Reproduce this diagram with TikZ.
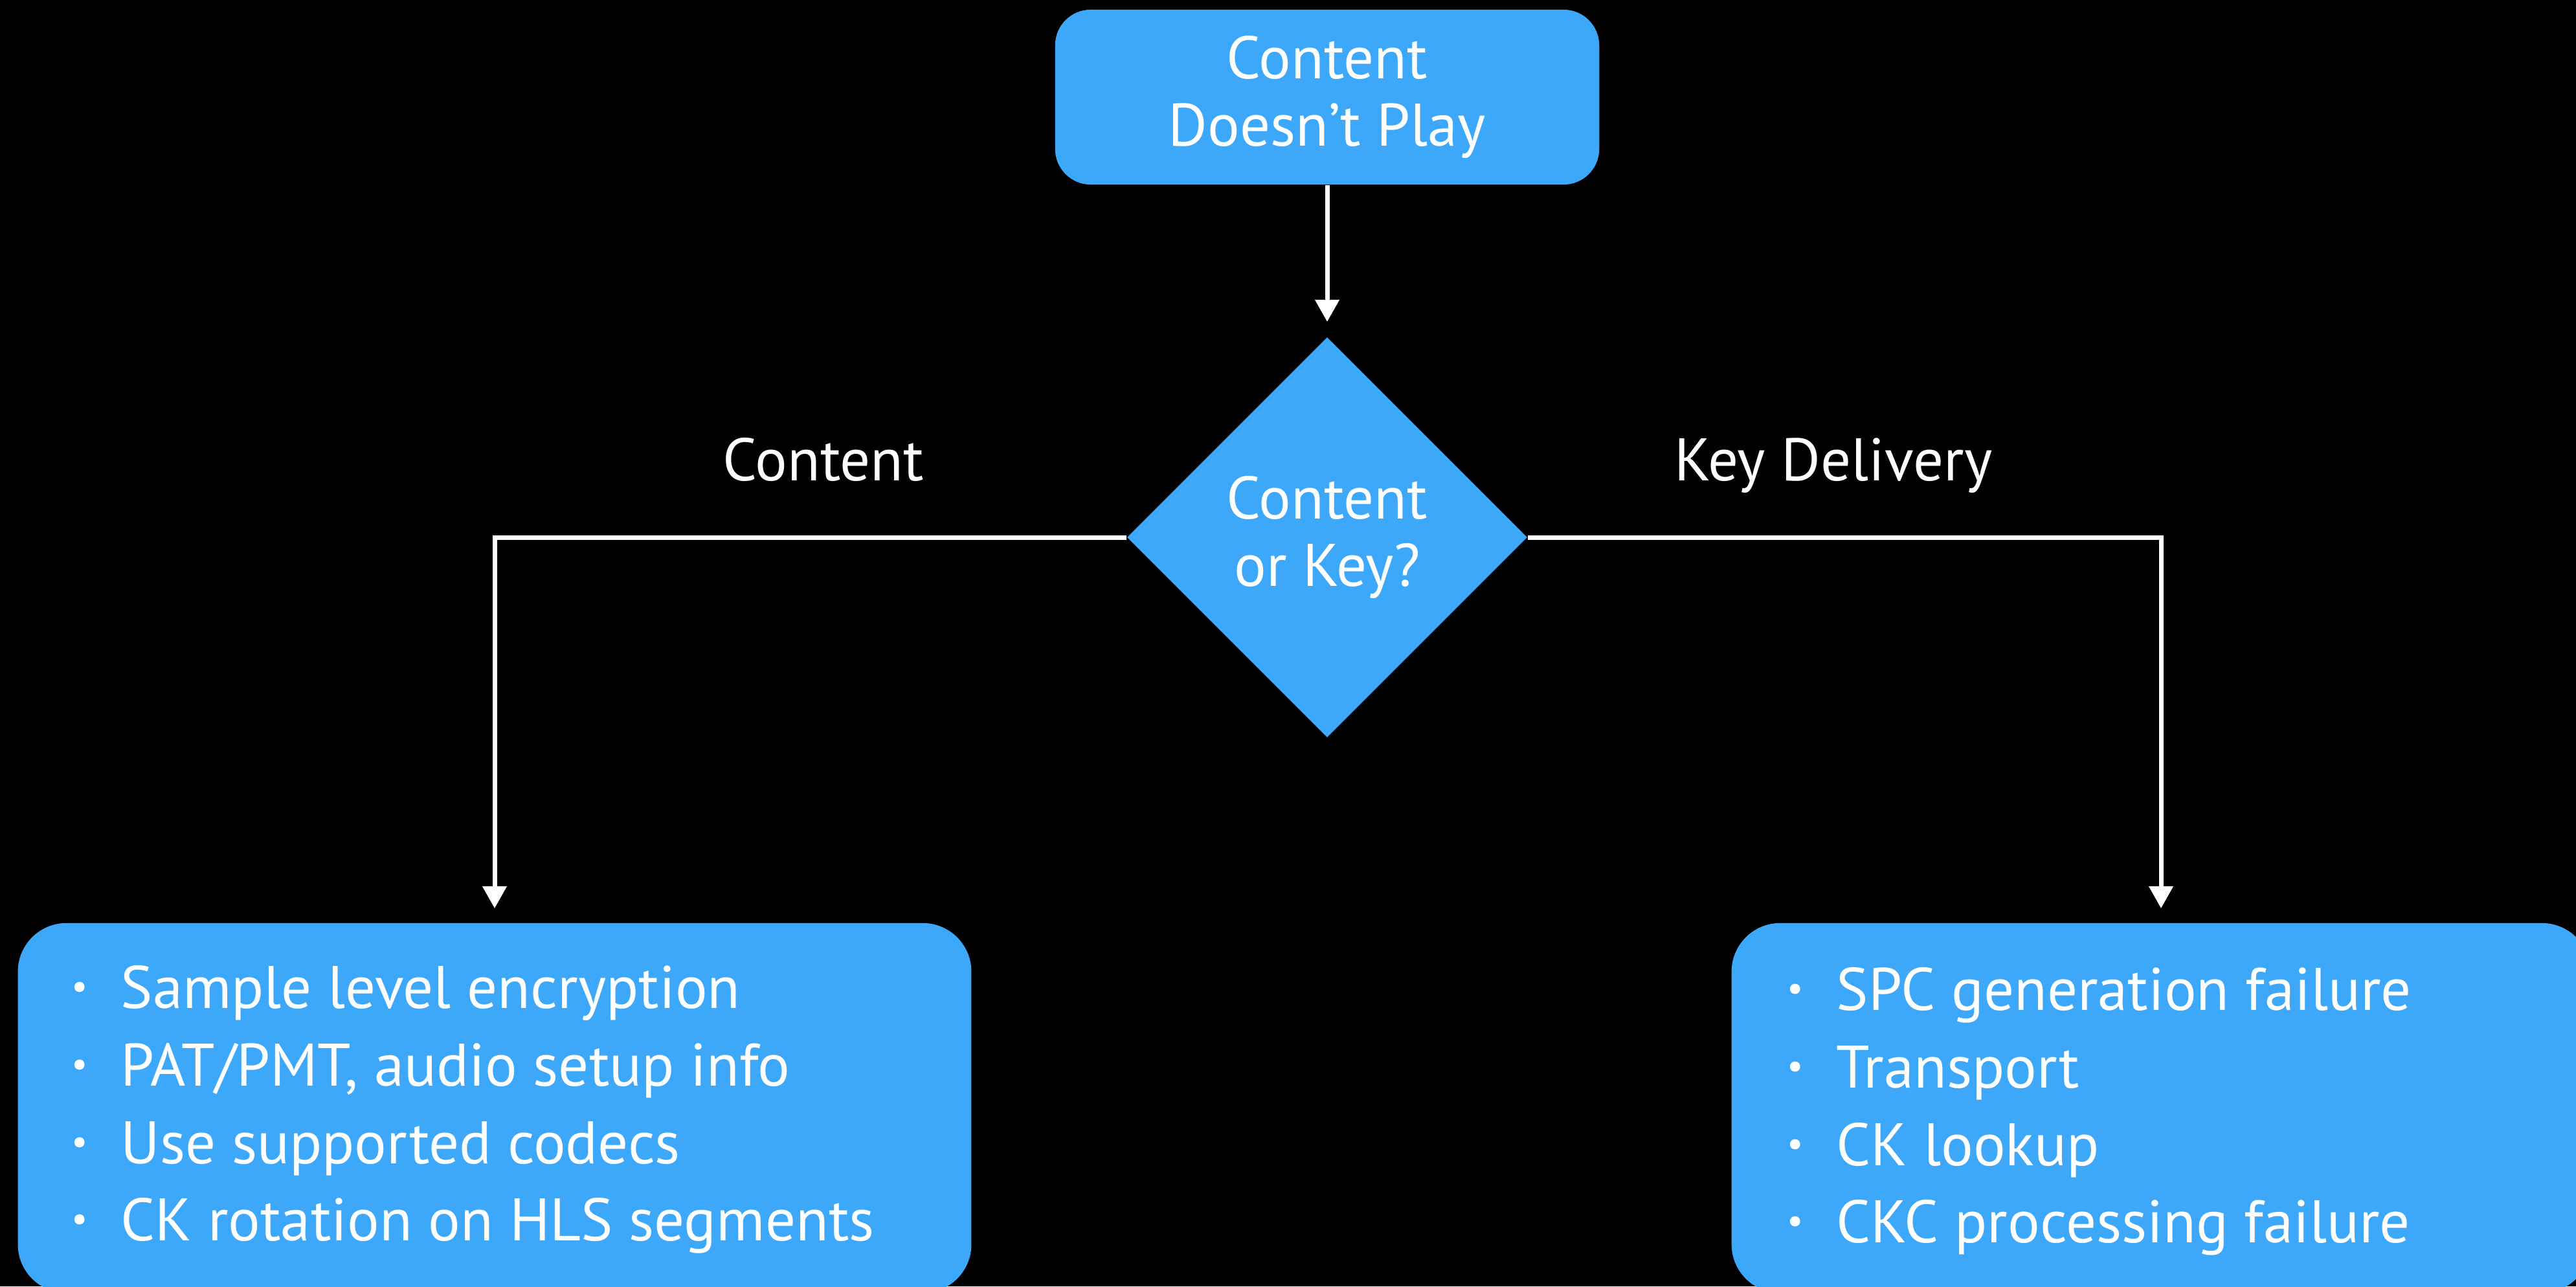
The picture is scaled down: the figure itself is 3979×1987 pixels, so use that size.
\documentclass[tikz,border=0pt]{standalone}
\usepackage{fontspec}
\setmainfont{PT Sans}
\usetikzlibrary{shapes.geometric,arrows.meta}
\definecolor{boxblue}{RGB}{61,168,250}
% small raised bullet followed by a fixed gap before the item text
\newcommand\bul{\makebox[0.76cm][l]{\raisebox{0.15cm}{\fontsize{16}{16}\selectfont\textbullet}}}
\begin{document}
\begin{tikzpicture}[x=0.01cm,y=-0.01cm,
  box/.style={fill=boxblue, text=white, inner sep=0pt},
  big/.style={font=\fontsize{26.4}{29.6}\selectfont},
  link/.style={draw=white, line width=0.07cm, -{Triangle[width=0.36cm,length=0.34cm]}},
  lbl/.style={big, text=white, anchor=base, inner sep=0pt},
  item/.style={text=white, font=\fontsize{26.4}{34}\selectfont, anchor=base west, inner sep=0pt}]
\fill[black] (0,0) rectangle (3979,1987);
\useasboundingbox (0,0) rectangle (3979,1987);

% start and decision
\node[box, big, rounded corners=0.55cm, minimum width=8.4cm, minimum height=2.7cm, align=center]
  (start) at (2050,150) {Content\\Doesn’t Play};
\node[box, big, diamond, minimum width=6.18cm, minimum height=6.18cm, align=center]
  (choice) at (2050,830) {Content\\or Key?};

% result boxes
\node[box, rounded corners=0.75cm, minimum width=14.72cm, minimum height=5.71cm] (lbox) at (764,1711.5) {};
\node[box, rounded corners=0.75cm, minimum width=13.26cm, minimum height=5.71cm] (rbox) at (3338,1711.5) {};

% left list
\node[item] (l1) at (110,1557) {\bul Sample level encryption};
\node[item] (l2) at (110,1677) {\bul PAT/PMT, audio setup info};
\node[item] (l3) at (110,1797) {\bul Use supported codecs};
\node[item] (l4) at (110,1916) {\bul CK rotation on HLS segments};

% right list
\node[item] (r1) at (2760,1560) {\bul SPC generation failure};
\node[item] (r2) at (2760,1680) {\bul Transport};
\node[item] (r3) at (2760,1800) {\bul CK lookup};
\node[item] (r4) at (2760,1919) {\bul CKC processing failure};

% branch labels
\node[lbl] (lc) at (1272,742) {Content};
\node[lbl] (lk) at (2832,742) {Key Delivery};

% connectors
\draw[link, shorten >=0.23cm] (start) -- (choice);
\draw[link, shorten >=0.22cm] (choice.west) -| (lbox.north);
\draw[link, shorten >=0.22cm] (choice.east) -| (rbox.north);
\end{tikzpicture}
\end{document}
